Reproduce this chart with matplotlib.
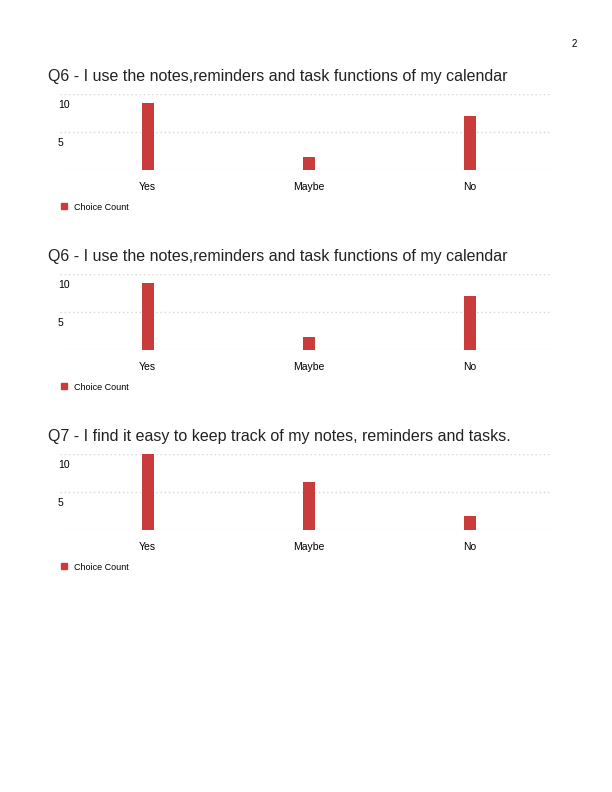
import matplotlib
matplotlib.use("Agg")
import matplotlib.pyplot as plt
import matplotlib.transforms as mtransforms

plt.rcParams['font.family'] = ['Liberation Sans', 'DejaVu Sans']

## data ##
categories = ["Yes", "Maybe", "No"]
titles = [
    "Q6 - I use the notes,reminders and task functions of my calendar",
    "Q6 - I use the notes,reminders and task functions of my calendar",
    "Q7 - I find it easy to keep track of my notes, reminders and tasks.",
]
counts = [
    [10, 2, 8],
    [10, 2, 8],
    [11, 7, 2],
]
y_tops = [11.3, 11.3, 11.0]
tick_labels = ["5", "10"]
legend_label = "Choice Count"
page_number = "2"

bar_color = "#c93c3b"
grid_color = "#d6d6d6"

W, H = 612, 792
fig = plt.figure(figsize=(W / 100, H / 100), dpi=100)

def px_axes(left, top, width, height):
    return fig.add_axes([left / W, 1 - (top + height) / H, width / W, height / H])

fig.text(572 / W, 1 - 44 / H, page_number, fontsize=7, ha='left', va='center')

for i, (title, vals, ytop) in enumerate(zip(titles, counts, y_tops)):
    off = 180 * i
    # title
    fig.text(48 / W, 1 - (77 + off) / H, title, fontsize=11.5, ha='left',
             va='center', color='#222222')

    ax = px_axes(60, 94 + off, 492, 76)
    x = list(range(len(categories)))
    ax.bar(x, vals, width=0.075, color=bar_color, zorder=3)
    ax.set_xlim(-0.543, 2.508)
    ax.set_ylim(0, ytop)

    # dotted gridlines: bottom, middle, top
    grid_vals = [0, ytop / 2, ytop]
    for g in grid_vals:
        ax.axhline(g, color=grid_color, lw=1, ls=(0, (1, 2)), zorder=1)

    for s in ax.spines.values():
        s.set_visible(False)
    ax.set_xticks(x)
    ax.set_xticklabels(categories, fontsize=7.5)
    ax.tick_params(axis='x', length=0, pad=9)
    # value labels sit just under their gridline
    ax.set_yticks(grid_vals[1:])
    ax.set_yticklabels(tick_labels, fontsize=7.5, ha='left')
    ax.tick_params(axis='y', length=0, pad=0)
    shift = mtransforms.ScaledTranslation(-2 / 100, -10 / 100, fig.dpi_scale_trans)
    for lab in ax.get_yticklabels():
        lab.set_transform(lab.get_transform() + shift)

    # legend
    fig.patches.append(plt.Rectangle((61 / W, 1 - (209 + off) / H), 6 / W, 6 / H,
                                     transform=fig.transFigure, color=bar_color))
    fig.text(74 / W, 1 - (207 + off) / H, legend_label, fontsize=6.5,
             ha='left', va='center')

fig.savefig("out.png", dpi=100)
